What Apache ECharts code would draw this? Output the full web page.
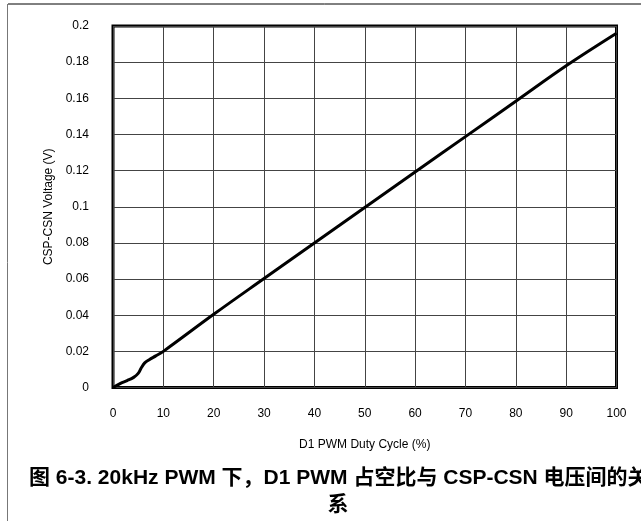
<!DOCTYPE html>
<html>
<head>
<meta charset="utf-8">
<title>D1 PWM Duty Cycle vs CSP-CSN Voltage</title>
<script src="https://cdn.jsdelivr.net/npm/echarts@6/dist/echarts.min.js"></script>
<style>
  html, body { margin: 0; padding: 0; background: #fff; }
  #chart { width: 641px; height: 521px; }
</style>
</head>
<body>
<div id="chart"></div>
<script>
// Duty cycle (%) and the measured CSP-CSN voltage (V)
const dutyCycle = [0, 1.5, 2.8, 4.1, 5.0, 5.6, 6.3, 7.2, 8.5, 10, 20, 30, 40, 50, 60, 70, 80, 90, 100];
const voltage   = [0, 0.0023, 0.0038, 0.0056, 0.0078, 0.0108, 0.0136, 0.0154, 0.0175, 0.0200,
                   0.0405, 0.0603, 0.0800, 0.0996, 0.1192, 0.1388, 0.1584, 0.1780, 0.1960];

const xTickLabels = ['0', '10', '20', '30', '40', '50', '60', '70', '80', '90', '100'];
const yTickLabels = ['0', '0.02', '0.04', '0.06', '0.08', '0.1', '0.12', '0.14', '0.16', '0.18', '0.2'];

const xName = 'D1 PWM Duty Cycle (%)';
const yName = 'CSP-CSN Voltage (V)';
const captionLine1 = '图 6-3. 20kHz PWM 下，D1 PWM 占空比与 CSP-CSN 电压间的关';
const captionLine2 = '系';

const points = dutyCycle.map((d, i) => [d, voltage[i]]);
const latin = '"Liberation Sans", Arial, sans-serif';
const cjk = '"Liberation Sans", Arial, "Noto Sans CJK SC", sans-serif';

const chart = echarts.init(document.getElementById('chart'), null, { renderer: 'canvas' });
chart.setOption({
  backgroundColor: '#fff',
  animation: false,
  grid: {
    left: 113, right: 24.5, top: 26, bottom: 133.5,
    show: true, borderColor: '#000', borderWidth: 3, backgroundColor: 'transparent'
  },
  xAxis: {
    type: 'value', min: 0, max: 100, interval: 10,
    name: xName, nameLocation: 'middle', nameGap: 51,
    nameTextStyle: { fontFamily: latin, fontSize: 12, color: '#000' },
    axisLine: { show: false }, axisTick: { show: false },
    axisLabel: {
      margin: 20, fontFamily: latin, fontSize: 12, color: '#000',
      formatter: (v, i) => xTickLabels[i]
    },
    splitLine: { show: true, lineStyle: { color: '#444', width: 1 } }
  },
  yAxis: {
    type: 'value', min: 0, max: 0.2, interval: 0.02,
    name: yName, nameLocation: 'middle', nameGap: 57,
    nameTextStyle: { fontFamily: latin, fontSize: 12, color: '#000' },
    axisLine: { show: false }, axisTick: { show: false },
    axisLabel: {
      margin: 24, fontFamily: latin, fontSize: 12, color: '#000',
      formatter: (v, i) => yTickLabels[i]
    },
    splitLine: { show: true, lineStyle: { color: '#444', width: 1 } }
  },
  series: [{
    type: 'line',
    data: points,
    smooth: 0.35,
    showSymbol: false,
    lineStyle: { color: '#000', width: 3 },
    z: 5
  }],
  graphic: [
    { type: 'line', shape: { x1: 8, y1: 4, x2: 641, y2: 4 }, style: { stroke: '#000', lineWidth: 1 }, silent: true },
    { type: 'line', shape: { x1: 7.5, y1: 4, x2: 7.5, y2: 521 }, style: { stroke: '#777', lineWidth: 1 }, silent: true },
    {
      type: 'text', x: 29, y: 468,
      style: { text: captionLine1, font: 'bold 21px ' + cjk, fill: '#000', textVerticalAlign: 'top' }
    },
    {
      type: 'text', x: 338, y: 495,
      style: { text: captionLine2, font: 'bold 21px ' + cjk, fill: '#000', textAlign: 'center', textVerticalAlign: 'top' }
    }
  ]
});
</script>
</body>
</html>
